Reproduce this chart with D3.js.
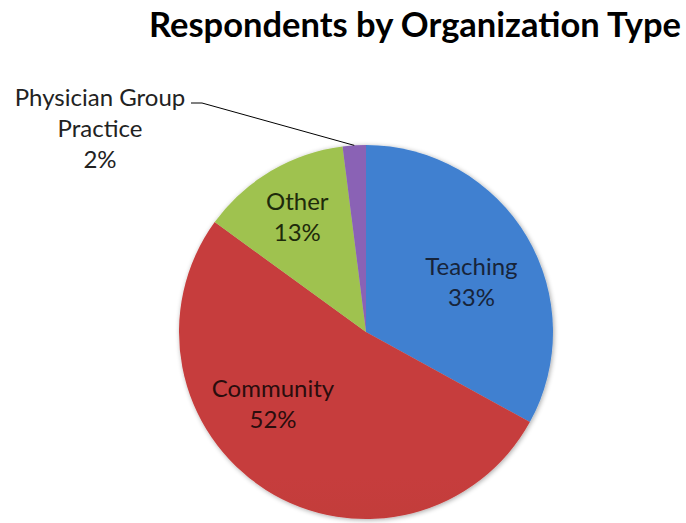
<!DOCTYPE html>
<html><head><meta charset="utf-8">
<script src="https://cdn.jsdelivr.net/npm/d3@7/dist/d3.min.js"></script>
<style>html,body{margin:0;padding:0;background:#fff;}svg{display:block;}</style>
</head><body>
<svg id="chart" width="686" height="523"></svg>
<script>
const categories = ["Teaching", "Community", "Other", "Physician Group Practice"];
const values = [33, 52, 13, 2];
const labels = ["33%", "52%", "13%", "2%"];
const title = "Respondents by Organization Type";

const colorsTop = ["#3f80d0", "#c63d3c", "#9fc24f", "#8a62b5"];
const colorsBot = ["#3563a8", "#a83231", "#86a63f", "#6d4c95"];

const W = 686, H = 523, cx = 366, cy = 332, R = 187;
const svg = d3.select("#chart");
const font = "Lato, 'Open Sans', 'Liberation Sans', sans-serif";

const defs = svg.append("defs");
colorsTop.forEach((c, i) => {
  const g = defs.append("linearGradient").attr("id", "g" + i)
    .attr("gradientUnits", "userSpaceOnUse")
    .attr("x1", 0).attr("y1", cy - R).attr("x2", 0).attr("y2", cy + R);
  g.append("stop").attr("offset", "0%").attr("stop-color", c);
  g.append("stop").attr("offset", "100%").attr("stop-color", colorsBot[i]);
});
const f = defs.append("filter").attr("id", "sh").attr("x", "-10%").attr("y", "-10%").attr("width", "120%").attr("height", "120%");
f.append("feGaussianBlur").attr("in", "SourceAlpha").attr("stdDeviation", 2.5);
f.append("feOffset").attr("dx", 1).attr("dy", 1).attr("result", "b");
f.append("feComponentTransfer").append("feFuncA").attr("type", "linear").attr("slope", 0.35);
const m = f.append("feMerge"); m.append("feMergeNode"); m.append("feMergeNode").attr("in", "SourceGraphic");

svg.append("text").attr("x", 415).attr("y", 37).attr("text-anchor", "middle")
  .attr("font-family", font).attr("font-weight", "bold").attr("font-size", 34.5)
  .attr("fill", "#000").text(title);

const pie = d3.pie().sort(null).value(d => d)(values);
const arc = d3.arc().innerRadius(0).outerRadius(R);
const g = svg.append("g").attr("transform", `translate(${cx},${cy})`);
g.append("g").attr("filter", "url(#sh)").selectAll("path").data(pie).join("path")
  .attr("d", arc).attr("fill", (d, i) => `url(#g${i})`);

// in-slice labels
const labelR = [117, 117, 135];
const labelAngOff = [0.086, 0.353, 0];
const textColors = ["#17243a", "#2a0d0d", "#1e2a0b"];
pie.slice(0, 3).forEach((d, i) => {
  const a = (d.startAngle + d.endAngle) / 2 + labelAngOff[i];
  const x = Math.sin(a) * labelR[i], y = -Math.cos(a) * labelR[i];
  const t = g.append("text").attr("text-anchor", "middle")
    .attr("font-family", font).attr("font-size", 24).attr("fill", textColors[i]);
  t.append("tspan").attr("x", x).attr("y", y - 6).text(categories[i]);
  t.append("tspan").attr("x", x).attr("y", y + 25).text(labels[i]);
});

// outside label for small slice
const ds = pie[3];
const am = (ds.startAngle + ds.endAngle) / 2;
const px = cx + Math.sin(am) * R, py = cy - Math.cos(am) * R;
svg.append("polyline")
  .attr("points", `${px},${py} 202,103 191,103`)
  .attr("fill", "none").attr("stroke", "#000").attr("stroke-width", 1);
const ot = svg.append("text").attr("text-anchor", "middle")
  .attr("font-family", font).attr("font-size", 24).attr("fill", "#222");
ot.append("tspan").attr("x", 100).attr("y", 106).text("Physician Group");
ot.append("tspan").attr("x", 100).attr("y", 137).text("Practice");
ot.append("tspan").attr("x", 100).attr("y", 168).text(labels[3]);
</script>
</body></html>
